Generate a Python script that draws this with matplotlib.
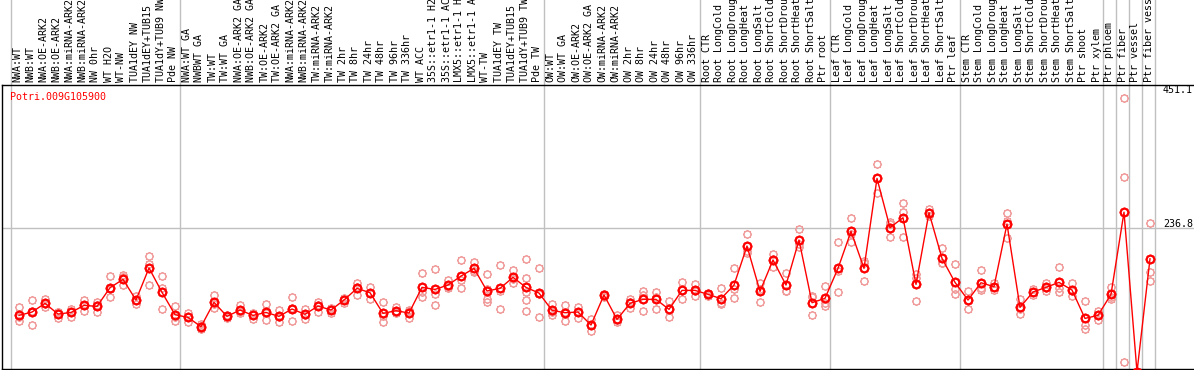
import matplotlib
matplotlib.use("Agg")
import matplotlib.pyplot as plt
import matplotlib.transforms as mtransforms
from matplotlib.path import Path
import numpy as np

title = "Potri.009G105900"

labels = [
    "NWA:WT", "NWB:WT", "NWA:OE-ARK2", "NWB:OE-ARK2", "NWA:miRNA-ARK2", "NWB:miRNA-ARK2",
    "NW 0hr", "WT H2O", "WT-NW", "TUA1dEY NW", "TUA1dEY+TUB15", "TUA1dY+TUB9 NW", "Pde NW",
    "NWA:WT GA", "NWBWT GA", "TW:WT", "TW:WT GA", "NWA:OE-ARK2 GA", "NWB:OE-ARK2 GA",
    "TW:OE-ARK2", "TW:OE-ARK2 GA", "NWA:miRNA-ARK2", "NWB:miRNA-ARK2", "TW:miRNA-ARK2",
    "TW:miRNA-ARK2", "TW 2hr", "TW 8hr", "TW 24hr", "TW 48hr", "TW 96hr", "TW 336hr",
    "WT ACC", "35S::etr1-1 H2O", "35S::etr1-1 ACC", "LMX5::etr1-1 H2O", "LMX5::etr1-1 ACC",
    "WT-TW", "TUA1dEY TW", "TUA1dEY+TUB15", "TUA1dY+TUB9 TW", "Pde TW",
    "OW:WT", "OW:WT GA", "OW:OE-ARK2", "OW:OE-ARK2 GA", "OW:miRNA-ARK2", "OW:miRNA-ARK2",
    "OW 2hr", "OW 8hr", "OW 24hr", "OW 48hr", "OW 96hr", "OW 336hr",
    "Root CTR", "Root LongCold", "Root LongDrought", "Root LongHeat", "Root LongSalt",
    "Root ShortCold", "Root ShortDrought", "Root ShortHeat", "Root ShortSalt", "Ptr root",
    "Leaf CTR", "Leaf LongCold", "Leaf LongDrought", "Leaf LongHeat", "Leaf LongSalt",
    "Leaf ShortCold", "Leaf ShortDrought", "Leaf ShortHeat", "Leaf ShortSalt", "Ptr leaf",
    "Stem CTR", "Stem LongCold", "Stem LongDrought", "Stem LongHeat", "Stem LongSalt",
    "Stem ShortCold", "Stem ShortDrought", "Stem ShortHeat", "Stem ShortSalt",
    "Ptr shoot", "Ptr xylem",
    "Ptr phloem", "Ptr fiber", "Ptr vessel", "Ptr fiber vessel",
]

# sizes of the sample groups (separated by grey vertical lines)
group_sizes = [13, 28, 12, 10, 10, 11, 1, 1, 1, 1]

means = [
    93.2, 98.7, 113, 95.4, 98, 109.7, 108, 138.8, 152.6, 118.5, 171.3, 131.2, 94.3,
    89.9, 74.6, 114.7, 91.6, 102, 93.2, 98, 91.6, 103.7, 94.9, 108.6, 102, 118.5,
    137.7, 130.6, 96.5, 100.9, 97.1, 139.4, 136, 143.2, 158, 170.7, 133.4, 137.7,
    155.9, 139.4, 130,
    101.5, 97.6, 98.7, 77.3, 126.8, 86.6, 113, 119.6, 119.6, 103.1, 134.4, 134.4,
    127.9, 120.7, 143.2, 207.5, 132.8, 184.5, 143.2, 217.4, 114.1, 121.3,
    170.7, 231.7, 170.7, 319, 237.8, 254.2, 144.3, 262.5, 187.2, 147.6,
    118.5, 147, 140.5, 243.8, 106.4, 131.7, 139.4, 147.6, 135, 88.2, 93.2,
    127.9, 263.3, 0, 186.5,
]

replicates = [
    [106.4, 83.4, 91], [118, 76.8, 101], [119.6, 107.5, 112], [98.7, 88.8, 98.5],
    [104, 91, 99], [118.5, 101, 109.5], [115, 99, 110], [158, 122.9, 136],
    [159, 142.7, 156], [125.7, 111.4, 118.5], [191, 178, 143.3], [158.6, 138.3, 103.1],
    [108.6, 83.4, 91],
    [96.5, 82.8, 90.5], [78.4, 70.2, 75], [126.2, 105.9, 112], [93.8, 88.8, 92],
    [110.3, 97.6, 98], [97.6, 88, 94], [112.5, 85, 96.5], [102, 81.7, 91],
    [122.9, 83.4, 104.8], [103.7, 87.2, 93.8], [115.2, 99.3, 111], [104.8, 97.6, 103.5],
    [121.3, 114.1, 120], [147, 126.2, 140], [140.5, 120.7, 130.6], [115.2, 82.8, 91.5],
    [106.4, 97.6, 98.7], [102, 88.8, 100.5], [163, 122.9, 132], [169, 110.3, 128.7],
    [151.5, 140.5, 137.6], [184.5, 137.7, 151.8], [180.6, 165.2, 166.3],
    [161.4, 115.2, 119.6, 137.4], [176.2, 103.7, 133.2], [168, 146, 153.7],
    [186, 154, 132, 118.5, 100.4], [171.3, 89.9, 128.8],
    [111.9, 93.2, 99.4], [110.3, 83.4, 99.1], [107.5, 89.4, 99.2], [88, 67, 77],
    [128.4, 124, 128], [93.2, 81.7, 85], [119.6, 104.8, 114.6], [132.8, 99.8, 126.2],
    [131.7, 103.1, 124], [116.3, 89.9, 103.1], [147.6, 120.7, 135], [144.9, 124.6, 133.7],
    [130.6, 125.2, 128], [137.7, 113, 111.4], [171.3, 121.3, 137], [227.3, 196.5, 198.7],
    [146, 115.2, 137.2], [193.8, 173.5, 186.2], [162.5, 133, 134], [235, 206.4, 210.8],
    [125.7, 93.8, 122.8], [141.6, 113, 109.3],
    [214.7, 131.7, 165.7], [253.1, 214.7, 227.3], [183.3, 149.3, 179.5], [342.7, 294.3, 320],
    [247.1, 222.9, 243.4], [277.9, 221.8, 262.9], [161.4, 116.9, 154.6], [268, 257, 262.5],
    [203.7, 179, 178.9], [177.8, 128.4, 136.6],
    [133.4, 104.2, 117.9], [167.4, 135, 138.6], [147, 135, 139.5], [261.4, 220.7, 249.3],
    [119.6, 95.4, 104.2], [136, 126.8, 132.3], [147, 132.8, 138.4], [172.9, 132.2, 137.7],
    [147, 125.1, 132.9], [116.9, 71.3, 77.3], [100.9, 85.6, 93.1],
    [140.5, 119.6, 123.6], [451.1, 322, 16.9], [0, 0, 0], [244.9, 164.7, 149.8],
]

yticks = [451.1, 236.8, 0]
ytick_offsets = [-8, -4, 10]   # label nudges in pixels
grid_values = [236.8]

RED = "#ff0000"
PINK = "#f09a9a"
GREY = "#c0c0c0"
MONO = "DejaVu Sans Mono"

# gear-like circle marker
circ = Path.circle((0, 0), 1.0)
tv, tc = [], []
for a in np.deg2rad(np.arange(0, 360, 45)):
    tv += [(np.cos(a) * 1.0, np.sin(a) * 1.0), (np.cos(a) * 1.3, np.sin(a) * 1.3)]
    tc += [Path.MOVETO, Path.LINETO]
gear = Path.make_compound_path(circ, Path(tv, tc))

W, H, DPI = 1194, 370, 100
fig = plt.figure(figsize=(W / DPI, H / DPI), dpi=DPI)
ax = fig.add_axes([2 / W, 1 / H, (W - 2) / W, 284 / H])

n = len(labels)
x = np.arange(n)
ax.set_xlim((2 - 19) / 13, (W - 19) / 13)
ax.set_ylim(4.8, 473)

for s in ["left", "top", "bottom"]:
    ax.spines[s].set_linewidth(1.0)
    ax.spines[s].set_color("black")
ax.spines["right"].set_visible(False)
ax.set_xticks([])
ax.set_yticks([])

# group separators
b = 0
bounds = [0]
for g in group_sizes:
    b += g
    bounds.append(b)
for bd in bounds:
    ax.axvline(bd - 0.615, ymin=-0.01, ymax=1.31, color=GREY, lw=1.0, clip_on=False, zorder=1)

for gv in grid_values:
    ax.axhline(gv, color=GREY, lw=1.0, zorder=1)

# replicates
for i, reps in enumerate(replicates):
    ax.plot([i] * len(reps), reps, linestyle="none", marker=gear, ms=6.5,
            mfc="none", mec=PINK, mew=1.0, zorder=2, clip_on=False)

ax.plot(x, means, color=RED, lw=1.0, zorder=3, clip_on=False)
ax.plot(x, means, linestyle="none", marker=gear, ms=7, mfc="none", mec=RED,
        mew=1.5, zorder=4, clip_on=False)

# sample labels
lab_tr = mtransforms.offset_copy(ax.get_xaxis_transform(), fig=fig, x=-1.5, y=3, units="dots")
for i, lab in enumerate(labels):
    ax.text(i, 1.0, lab, rotation=90, ha="center", va="bottom", fontsize=7.2,
            family=MONO, transform=lab_tr, clip_on=False)

# title
t_tr = mtransforms.offset_copy(ax.transAxes, fig=fig, x=0, y=-12, units="dots")
ax.text((10 - 2) / (W - 2), 1.0, title, color=RED, fontsize=7.2, family=MONO,
        ha="left", va="center", transform=t_tr)

# right-side value labels
for v, dy in zip(yticks, ytick_offsets):
    tr = mtransforms.offset_copy(ax.transData, fig=fig, x=0, y=-dy, units="dots")
    ax.text(88.0, v, f"{v:g}", fontsize=7.2, family=MONO, ha="left", va="center",
            transform=tr, clip_on=False)

fig.savefig("out.png", dpi=DPI)
